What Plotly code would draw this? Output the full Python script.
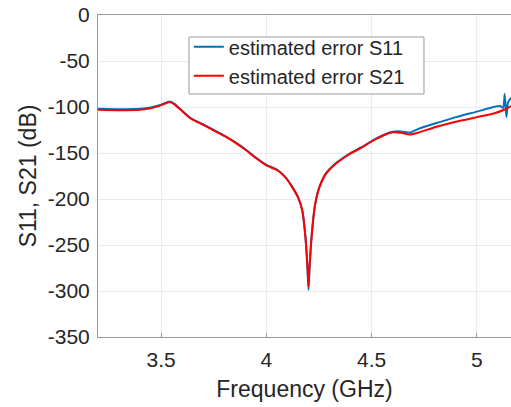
import plotly.graph_objects as go

freq_s11 = [3.20, 3.30, 3.40, 3.45, 3.50, 3.54, 3.56, 3.60, 3.64, 3.70, 3.75, 3.80, 3.85, 3.90,
            3.95, 4.00, 4.05, 4.09, 4.12, 4.15, 4.17, 4.185, 4.195, 4.200, 4.205, 4.215, 4.23,
            4.25, 4.28, 4.32, 4.36, 4.40, 4.45, 4.50, 4.55, 4.60, 4.64, 4.68, 4.72, 4.80, 4.90,
            5.00, 5.08, 5.11, 5.125, 5.132, 5.14, 5.148, 5.162]
s11_db = [-102, -102.5, -102, -100.5, -97.5, -94, -96, -104, -112, -119, -125, -131, -138, -146,
          -155, -163, -168, -176, -186, -198, -212, -240, -275, -299, -275, -240, -208,
          -188, -173, -163, -156, -150, -144, -137, -131, -127, -126.5, -128, -124, -118, -111,
          -105, -100, -99, -101, -86, -111, -95, -90]

freq_s21 = [3.20, 3.30, 3.40, 3.45, 3.50, 3.54, 3.56, 3.60, 3.64, 3.70, 3.75, 3.80, 3.85, 3.90,
            3.95, 4.00, 4.05, 4.09, 4.12, 4.15, 4.17, 4.185, 4.195, 4.200, 4.205, 4.215, 4.23,
            4.25, 4.28, 4.32, 4.36, 4.40, 4.45, 4.50, 4.55, 4.60, 4.64, 4.68, 4.72, 4.80, 4.90,
            5.00, 5.08, 5.13, 5.162]
s21_db = [-103, -103.5, -103, -101.5, -98, -94.5, -96.5, -104.5, -112.5, -119.5, -125.5, -131.5, -138.5, -146.5,
          -155.5, -163.5, -168.5, -176.5, -186, -198, -212, -240, -273, -295, -273, -240, -208,
          -188.5, -173.5, -163.5, -156.5, -150.5, -144.5, -137.5, -131.5, -127.5, -128, -130, -128, -122, -116,
          -111, -107, -103, -99]

x_ticks = [3.5, 4, 4.5, 5]
y_ticks = [0, -50, -100, -150, -200, -250, -300, -350]

FONT = "Liberation Sans, Arial, sans-serif"
TEXT = "#262626"
AXIS = "#999999"

fig = go.Figure()
fig.add_trace(go.Scatter(x=freq_s11, y=s11_db, mode="lines", name="estimated error S11",
                         line=dict(color="#0072BD", width=2, shape="spline", smoothing=0.5)))
fig.add_trace(go.Scatter(x=freq_s21, y=s21_db, mode="lines", name="estimated error S21",
                         line=dict(color="#FF0000", width=2, shape="spline", smoothing=0.5)))

# legend frame (drawn as a shape so its padding matches the reference)
fig.add_shape(type="rect", xref="paper", yref="paper",
              x0=0.2203, x1=0.7893, y0=0.7547, y1=0.9317,
              line=dict(color="#9a9a9a", width=1), fillcolor="white", layer="above")

fig.update_layout(
    width=511, height=407,
    margin=dict(l=98, r=0, t=15, b=70),
    paper_bgcolor="white", plot_bgcolor="white",
    font=dict(family=FONT, color=TEXT, size=21),
    showlegend=True,
    legend=dict(x=0.22, y=0.962, xanchor="left", yanchor="top",
                bgcolor="rgba(0,0,0,0)", borderwidth=0,
                font=dict(size=20, family=FONT, color=TEXT),
                tracegroupgap=0, itemwidth=30),
    xaxis=dict(range=[3.2, 5.162], tickvals=x_ticks, ticktext=[str(v) for v in x_ticks],
               showgrid=True, gridcolor="#ebebeb", gridwidth=1,
               showline=True, linecolor=AXIS, linewidth=1, mirror=True,
               ticks="inside", ticklen=4, tickcolor=AXIS,
               zeroline=False, ticklabelstandoff=4,
               title=dict(text="Frequency (GHz)", font=dict(size=23, family=FONT, color=TEXT), standoff=10),
               tickfont=dict(size=21, family=FONT, color=TEXT)),
    yaxis=dict(range=[-350, 0], tickvals=y_ticks, ticktext=[str(v) for v in y_ticks],
               showgrid=True, gridcolor="#ebebeb", gridwidth=1,
               showline=True, linecolor=AXIS, linewidth=1, mirror=False,
               ticks="", zeroline=False, ticklabeloverflow="allow", ticklabelstandoff=3,
               title=dict(text="S11, S21 (dB)", font=dict(size=23, family=FONT, color=TEXT), standoff=4),
               tickfont=dict(size=21, family=FONT, color=TEXT)),
)

fig.write_html("out.html", config={"displayModeBar": False},
               post_script="document.body.style.margin='0';document.body.style.overflow='hidden';")
